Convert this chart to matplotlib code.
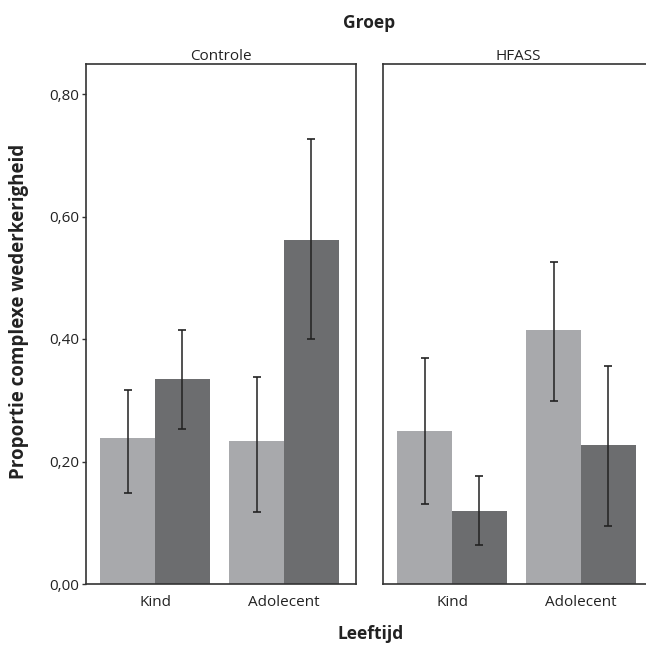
import numpy as np
import matplotlib
matplotlib.use("Agg")
import matplotlib.pyplot as plt

plt.rcParams["font.family"] = ["Open Sans", "DejaVu Sans"]

# ── Data ──────────────────────────────────────────────────────────────────────
groups     = ["Controle", "HFASS"]
age_labels = ["Kind", "Adolecent"]

# light bar (first series) and dark bar (second series), per group: [Kind, Adolecent]
light_mean = {"Controle": [0.239, 0.233], "HFASS": [0.250, 0.414]}
light_lo   = {"Controle": [0.149, 0.118], "HFASS": [0.131, 0.299]}
light_hi   = {"Controle": [0.316, 0.338], "HFASS": [0.369, 0.526]}

dark_mean  = {"Controle": [0.335, 0.562], "HFASS": [0.119, 0.227]}
dark_lo    = {"Controle": [0.253, 0.400], "HFASS": [0.064, 0.094]}
dark_hi    = {"Controle": [0.415, 0.727], "HFASS": [0.176, 0.356]}

yticks      = [0.0, 0.2, 0.4, 0.6, 0.8]
ytick_texts = ["0,00", "0,20", "0,40", "0,60", "0,80"]

LIGHT = "#a8a9ac"
DARK  = "#6c6d6f"
EDGE  = "#333333"

W, H = 646, 648
fig = plt.figure(figsize=(W / 100, H / 100), dpi=100)

# panel pixel boxes (left, right) ; top/bottom shared
top_px, bot_px = 64, 584
panels_px = [(86, 356), (383, 653)]

bw = 0.426
x = np.arange(len(age_labels))


def draw_panel(ax, g, first):
    lm, dm = np.array(light_mean[g]), np.array(dark_mean[g])
    ax.bar(x - bw / 2, lm, width=bw, color=LIGHT, zorder=1)
    ax.bar(x + bw / 2, dm, width=bw, color=DARK, zorder=1)
    for xs, m, lo, hi in [(x - bw / 2, lm, light_lo[g], light_hi[g]),
                          (x + bw / 2, dm, dark_lo[g], dark_hi[g])]:
        err = [m - np.array(lo), np.array(hi) - m]
        ax.errorbar(xs, m, yerr=err, fmt="none", ecolor="#222222",
                    elinewidth=1.1, capsize=2.8, capthick=1.2, zorder=3)
    ax.set_xlim(-0.535, 1.558)
    ax.set_ylim(0, 0.8 + 0.2 * (584 - 64 - 490) / 122.5)
    ax.set_xticks(x)
    ax.set_xticklabels(age_labels, fontsize=11, color="#222222")
    ax.tick_params(axis="x", length=0, pad=8)
    for s in ax.spines.values():
        s.set_color(EDGE)
        s.set_linewidth(1.2)
    if first:
        ax.set_yticks(yticks)
        ax.set_yticklabels(ytick_texts, fontsize=11, color="#222222")
        ax.tick_params(axis="y", length=3, width=1, color=EDGE, pad=2)
    else:
        ax.set_yticks([])
    ax.set_title(g, fontsize=11, color="#222222", pad=2)


for i, g in enumerate(groups):
    l, r = panels_px[i]
    ax = fig.add_axes([l / W, 1 - bot_px / H, (r - l) / W, (bot_px - top_px) / H])
    draw_panel(ax, g, i == 0)

fig.text(369 / W, 1 - 23 / H, "Groep", ha="center", va="center",
         fontsize=12.5, fontweight="bold", color="#222222")
fig.text(371 / W, 1 - 634 / H, "Leeftijd", ha="center", va="center",
         fontsize=12.5, fontweight="bold", color="#222222")
fig.text(19 / W, 1 - 311 / H, "Proportie complexe wederkerigheid", ha="center",
         va="center", rotation=90, fontsize=13.5, fontweight="bold", color="#222222")

fig.savefig("out.png", dpi=100)
